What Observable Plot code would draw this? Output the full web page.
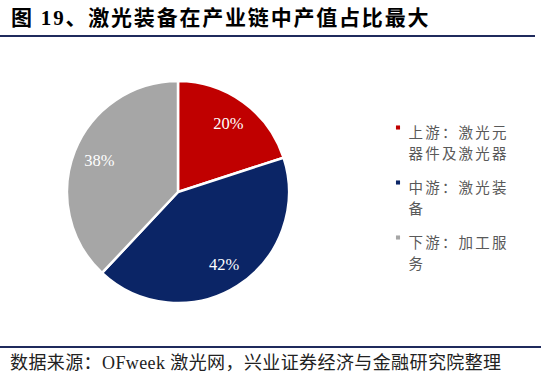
<!DOCTYPE html>
<html>
<head>
<meta charset="utf-8">
<script src="https://cdn.jsdelivr.net/npm/d3@7"></script>
<script src="https://cdn.jsdelivr.net/npm/@observablehq/plot@0.6"></script>
<style>
  body { margin: 0; background: #fff; width: 554px; height: 379px; overflow: hidden;
         font-family: "Liberation Serif", "Noto Sans CJK SC", serif; }
  #title { height: 35px; line-height: 36px; padding-left: 11px; width: 524px;
           font-size: 21px; letter-spacing: 1.8px; font-weight: bold; color: #000;
           border-bottom: 2px solid #1F2A5C; white-space: nowrap; }
  #chart { height: 309px; }
  #source { width: 541px; border-top: 2px solid #1F2A5C; height: 31px; line-height: 31px;
            padding-left: 10px; box-sizing: border-box; font-size: 18px; letter-spacing: 0.4px;
            color: #222; white-space: nowrap; }
</style>
</head>
<body>
<div id="title">图 19、激光装备在产业链中产值占比最大</div>
<div id="chart"></div>
<div id="source">数据来源：OFweek 激光网，兴业证券经济与金融研究院整理</div>
<script>
// ---- data ----
const categories = ["上游：激光元器件及激光器", "中游：激光装备", "下游：加工服务"];
const shares = [20, 42, 38];
const pctLabels = ["20%", "42%", "38%"];
const sliceColors = ["#C00000", "#0B2566", "#A6A6A6"];

const data = categories.map((c, i) => ({category: c, share: shares[i], label: pctLabels[i], i}));

// ---- layout ----
const W = 554, H = 309;
const cx = 178, cy = 155, R = 111, labelR = 85;
const legendX = 397.5, legendTextX = 408, legendY0 = 90, legendStep = 55;

const arcs = d3.pie().sort(null).value(d => d.share)(data);
const labelArc = d3.arc().innerRadius(labelR).outerRadius(labelR);

// legend text wrapped after 6 characters
const wrap = c => [c.slice(0, 6), c.slice(6)].filter(s => s.length).join("\n");

function pieMark(index, scales) {
  const g = d3.create("svg:g").attr("transform", `translate(${cx},${cy})`);
  const arc = d3.arc().innerRadius(0).outerRadius(R);
  g.selectAll("path").data(arcs).join("path")
    .attr("d", arc)
    .attr("fill", d => scales.color(d.data.category))
    .attr("stroke", "#fff")
    .attr("stroke-width", 2.5)
    .attr("stroke-linejoin", "round");
  return g.node();
}

const chart = Plot.plot({
  width: W, height: H, margin: 0,
  x: {type: "identity", axis: null},
  y: {type: "identity", axis: null},
  color: {domain: categories, range: sliceColors},
  marks: [
    pieMark,
    Plot.text(arcs, {
      x: a => cx + labelArc.centroid(a)[0],
      y: a => cy + labelArc.centroid(a)[1],
      text: a => a.data.label,
      fill: "#fff", fontSize: 16.5, fontFamily: "Liberation Serif"
    }),
    Plot.dot(data, {
      x: () => legendX, y: d => legendY0 + d.i * legendStep,
      fill: "category", symbol: "square", r: 2.3, stroke: null
    }),
    Plot.text(data, {
      x: () => legendTextX, y: d => legendY0 - 5 + d.i * legendStep,
      text: d => wrap(d.category), lineAnchor: "top", lineHeight: 1.46,
      textAnchor: "start", fill: "#595959", fontSize: 14.5,
      fontFamily: "Noto Sans CJK SC"
    })
  ]
});
// widen the legend glyph spacing to match the reference's wider CJK font
d3.select(chart).selectAll("text")
  .filter(function() { return this.textContent.includes("游"); })
  .style("letter-spacing", "2.2px");
document.getElementById("chart").appendChild(chart);
</script>
</body>
</html>
